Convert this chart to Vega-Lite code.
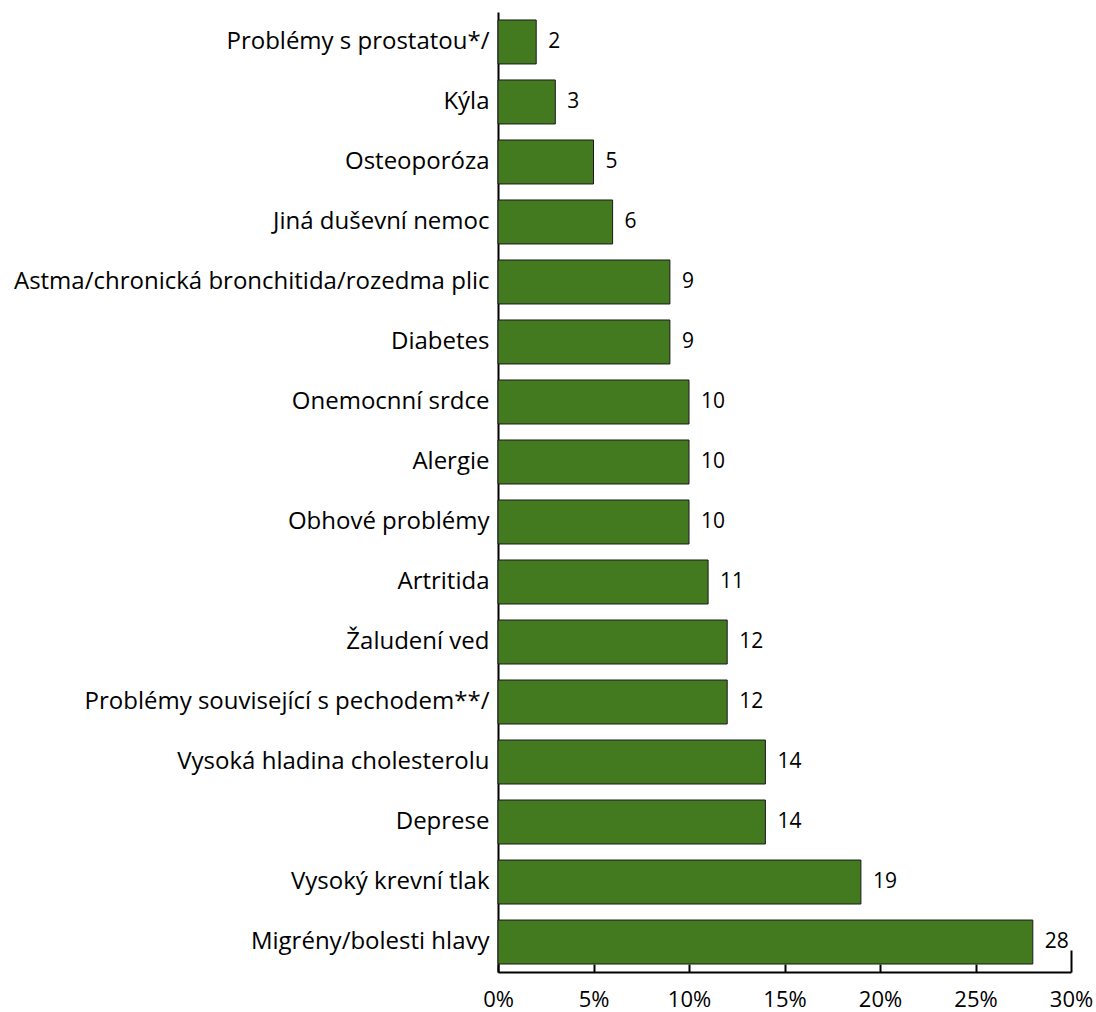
{
  "$schema": "https://vega.github.io/schema/vega-lite/v6.json",
  "autosize": {"type": "none"},
  "padding": {"left": 498, "top": 12, "right": 25, "bottom": 40},
  "width": 573,
  "height": 960,
  "background": "white",
  "config": {"view": {"stroke": null}, "font": "Open Sans"},
  "data": {
    "values": [
      {"nemoc": "Problémy s prostatou*/", "podil": 2},
      {"nemoc": "Kýla", "podil": 3},
      {"nemoc": "Osteoporóza", "podil": 5},
      {"nemoc": "Jiná duševní nemoc", "podil": 6},
      {"nemoc": "Astma/chronická bronchitida/rozedma plic", "podil": 9},
      {"nemoc": "Diabetes", "podil": 9},
      {"nemoc": "Onemocnní srdce", "podil": 10},
      {"nemoc": "Alergie", "podil": 10},
      {"nemoc": "Obhové problémy", "podil": 10},
      {"nemoc": "Artritida", "podil": 11},
      {"nemoc": "Žaludení ved", "podil": 12},
      {"nemoc": "Problémy související s pechodem**/", "podil": 12},
      {"nemoc": "Vysoká hladina cholesterolu", "podil": 14},
      {"nemoc": "Deprese", "podil": 14},
      {"nemoc": "Vysoký krevní tlak", "podil": 19},
      {"nemoc": "Migrény/bolesti hlavy", "podil": 28}
    ]
  },
  "encoding": {
    "y": {
      "field": "nemoc",
      "type": "nominal",
      "sort": null,
      "scale": {"paddingInner": 0.267, "paddingOuter": 0.133},
      "axis": {
        "title": null,
        "ticks": false,
        "labelPadding": 9,
        "labelFontSize": 24,
        "labelColor": "black",
        "labelLimit": 600,
        "domainColor": "black",
        "domainWidth": 2
      }
    },
    "x": {
      "field": "podil",
      "type": "quantitative",
      "scale": {"domain": [0, 30], "nice": false},
      "axis": {
        "title": null,
        "grid": false,
        "values": [0, 5, 10, 15, 20, 25, 30],
        "labelExpr": "datum.value + '%'",
        "labelFontSize": 22,
        "labelColor": "black",
        "labelFlush": false,
        "domainColor": "black",
        "domainWidth": 2,
        "tickColor": "black",
        "tickWidth": 2,
        "tickSize": {"condition": {"test": "datum.value == 30", "value": -22}, "value": -8},
        "labelPadding": {"condition": {"test": "datum.value == 30", "value": 39}, "value": 25}
      }
    }
  },
  "layer": [
    {
      "mark": {"type": "bar", "color": "#447a1f", "stroke": "#1a1a1a", "strokeWidth": 1}
    },
    {
      "mark": {"type": "text", "align": "left", "baseline": "middle", "dx": 12, "fontSize": 21, "color": "black"},
      "encoding": {"text": {"field": "podil", "type": "quantitative"}}
    }
  ]
}
